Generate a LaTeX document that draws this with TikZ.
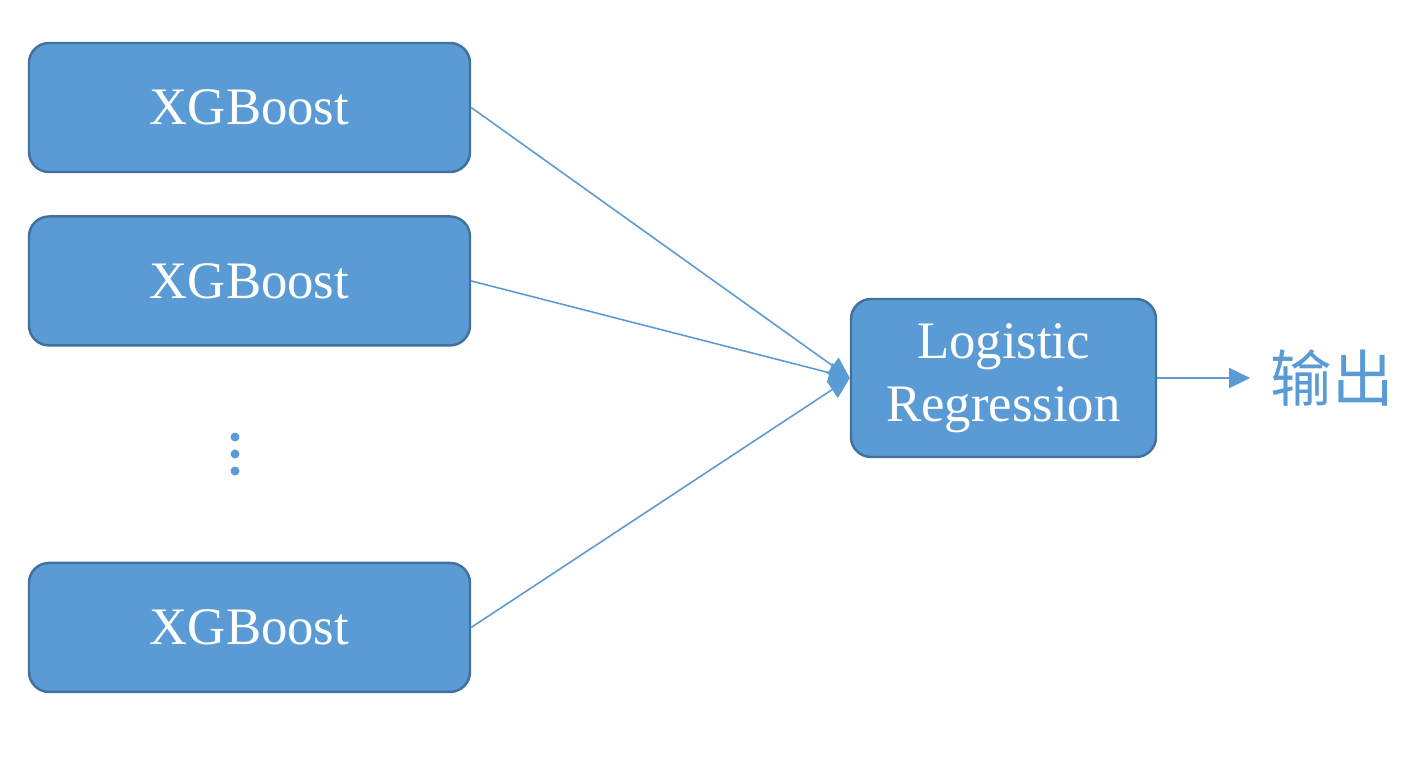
\documentclass[tikz,border=0pt]{standalone}
\usepackage{fontspec}
\setmainfont{Liberation Serif}
\newfontfamily\cjk{Noto Sans CJK SC}
\usepackage{tikz}
\usetikzlibrary{positioning}
\usetikzlibrary{arrows.meta}
\definecolor{boxblue}{RGB}{91,155,213}
\definecolor{edgeblue}{RGB}{65,113,156}

\begin{document}
\begin{tikzpicture}
	\tikzstyle{box} = [rectangle, rounded corners=0.2cm, draw=edgeblue, line width=0.7pt, fill=boxblue, text=white, font=\fontsize{15}{18}\selectfont]
	\tikzstyle{edge} = [draw=boxblue, line width=0.45pt, -{Triangle[length=0.21cm, width=0.2cm]}]

	\useasboundingbox (0,0) rectangle (14.19,-7.59);

	\node (1) [box, minimum width=4.41cm, minimum height=1.29cm] at (2.495,-1.075) {XGBoost};
	\node (2) [box, minimum width=4.41cm, minimum height=1.29cm, below=0.42cm of 1] {XGBoost};
	\node (3) [box, minimum width=4.41cm, minimum height=1.29cm, below=2.15cm of 2] {XGBoost};

	\node (4) [box, minimum width=3.05cm, minimum height=1.58cm, align=center] at (10.035,-3.78) {Logistic\\Regression};
	\node (5) [right=1.13cm of 4, inner sep=0pt, text=boxblue, font=\cjk\fontsize{17.5}{20}\selectfont] {输出};

	\foreach \y in {4.37, 4.54, 4.71}
		\fill [boxblue] (2.35,-\y) circle (0.045cm);

	\draw (1.east) edge [edge] (4.west);
	\draw (2.east) edge [edge] (4.west);
	\draw (3.east) edge [edge] (4.west);
	\draw (4) edge [edge, shorten >=0.2cm] (5);
\end{tikzpicture}
\end{document}
